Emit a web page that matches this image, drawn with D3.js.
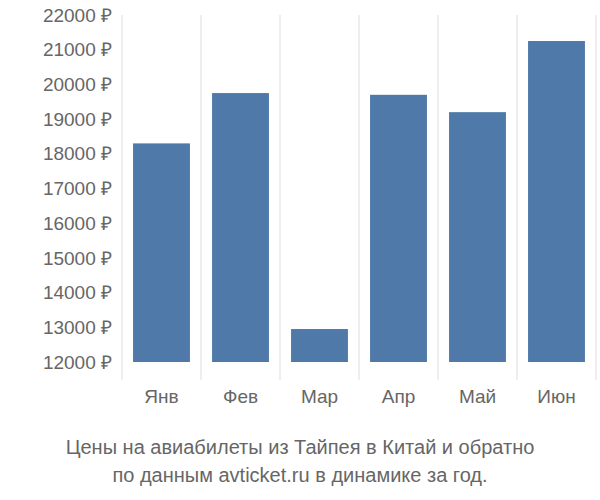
<!DOCTYPE html>
<html><head><meta charset="utf-8">
<script src="https://cdn.jsdelivr.net/npm/d3@7"></script>
<style>body{margin:0;background:#fff}text{font-family:"Liberation Sans",Arial,sans-serif}</style>
</head><body>
<svg id="c" width="600" height="500"></svg>
<script>
const categories=["Янв","Фев","Мар","Апр","Май","Июн"];
const values=[18300,19750,12950,19700,19200,21250];
const yTicks=[12000,13000,14000,15000,16000,17000,18000,19000,20000,21000,22000];
const title=["Цены на авиабилеты из Тайпея в Китай и обратно","по данным avticket.ru в динамике за год."];

const svg=d3.select("#c");
const x=d3.scaleBand().domain(categories).range([122,596]).paddingInner(0.28).paddingOuter(0.14);
const y=d3.scaleLinear().domain([12000,22000]).range([362,15]);
const grid="#dddddd", txt="#666";
const step=x.step(), x0=122;
// vertical grid lines
const gx=d3.range(categories.length+1).map(i=>x0+i*step);
svg.selectAll("line.g").data(gx).enter().append("line")
 .attr("x1",d=>d).attr("x2",d=>d).attr("y1",15).attr("y2",380)
 .attr("stroke",grid).attr("stroke-width",1);
svg.selectAll("rect").data(values).enter().append("rect")
 .attr("x",(d,i)=>x(categories[i])).attr("width",x.bandwidth())
 .attr("y",d=>y(d)).attr("height",d=>y(12000)-y(d)).attr("fill","#4e79a8");
svg.selectAll("text.y").data(yTicks).enter().append("text")
 .attr("x",112).attr("y",d=>y(d)).attr("dy","0.35em").attr("text-anchor","end")
 .attr("font-size",19).attr("fill",txt).text(d=>d+" ₽");
svg.selectAll("text.x").data(categories).enter().append("text")
 .attr("x",d=>x(d)+x.bandwidth()/2).attr("y",403).attr("text-anchor","middle")
 .attr("font-size",19).attr("fill",txt).text(d=>d);
svg.selectAll("text.t").data(title).enter().append("text")
 .attr("x",300).attr("y",(d,i)=>454+i*28).attr("text-anchor","middle")
 .attr("font-size",20).attr("fill",txt).text(d=>d);
</script></body></html>
